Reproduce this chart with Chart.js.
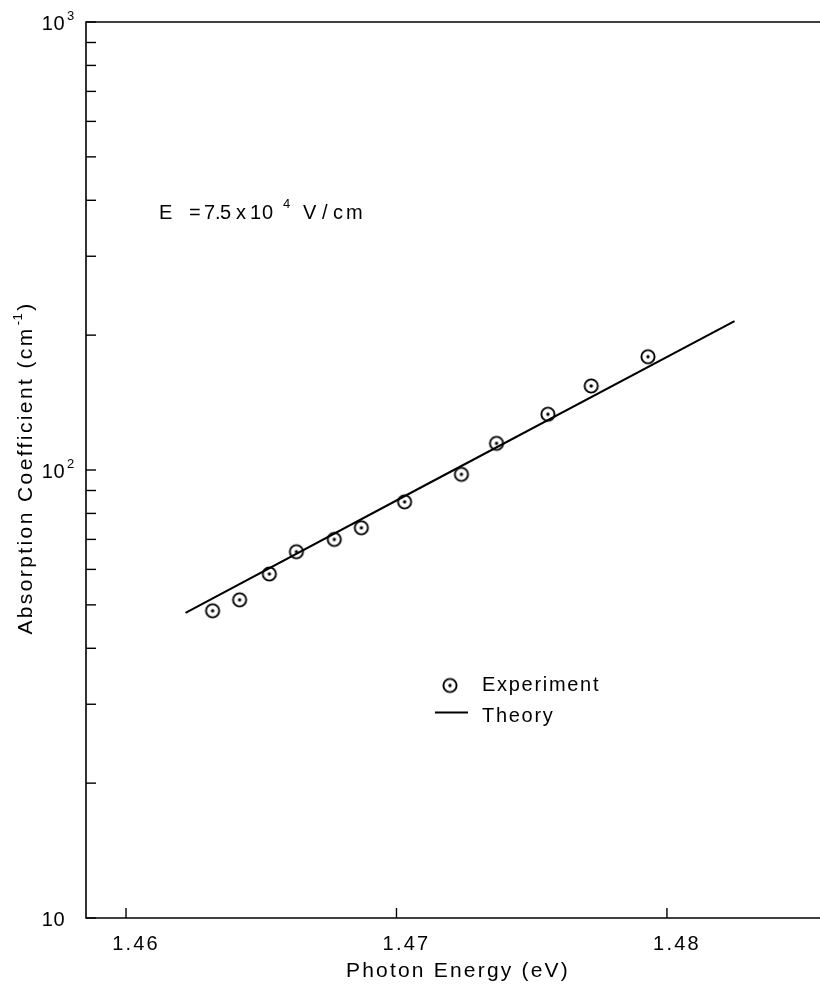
<!DOCTYPE html>
<html>
<head>
<meta charset="utf-8">
<script src="https://cdn.jsdelivr.net/npm/chart.js@4.4.1/dist/chart.umd.min.js"></script>
<style>
  html, body { margin: 0; padding: 0; background: #fff; overflow: hidden; }
  canvas { display: block; }
</style>
</head>
<body>
<canvas id="myChart" width="820" height="987"></canvas>
<script>
// datos
const energia = [1.4632, 1.4642, 1.4653, 1.4663, 1.4677, 1.4687, 1.4703, 1.4724, 1.4737, 1.4756, 1.4772, 1.4793];
const absorcion = [48.5, 51.3, 58.6, 65.7, 70.0, 74.3, 84.9, 97.8, 114.7, 133.2, 154.0, 179.0];
const teoriaX = [1.4622, 1.4709, 1.4825];
const teoriaY = [48.0, 91.4, 215.0];
const ticksX = [1.46, 1.47, 1.48];
const ticksY = [10, 20, 30, 40, 50, 60, 70, 80, 90, 100, 200, 300, 400, 500, 600, 700, 800, 900, 1000];
const etiquetasY = [[10, ''], [100, '2'], [1000, '3']];

const fuente = '"Liberation Sans", Arial, sans-serif';

// marcador: circulo con punto al centro
const marca = document.createElement('canvas');
marca.width = 18; marca.height = 18;
(function () {
    const c = marca.getContext('2d');
    c.strokeStyle = '#000';
    c.lineWidth = 1.9;
    c.beginPath(); c.arc(9, 9, 6.6, 0, Math.PI * 2); c.stroke();
    c.fillStyle = '#000';
    c.beginPath(); c.arc(9, 9, 1.7, 0, Math.PI * 2); c.fill();
})();

function texto(ctx, t, x, y, size, espacio, align) {
    ctx.font = size + 'px ' + fuente;
    ctx.letterSpacing = espacio + 'px';
    ctx.textAlign = align || 'left';
    ctx.fillText(t, x, y);
    return ctx.measureText(t).width;
}

const marcos = {
    id: 'marcos',
    afterDraw(chart) {
        const ctx = chart.ctx;
        const a = chart.chartArea;
        const sx = chart.scales.x, sy = chart.scales.y;
        ctx.save();
        ctx.strokeStyle = '#000';
        ctx.fillStyle = '#000';
        ctx.lineWidth = 1.6;
        // ejes
        ctx.beginPath();
        ctx.moveTo(a.right, a.top); ctx.lineTo(a.left, a.top);
        ctx.lineTo(a.left, a.bottom); ctx.lineTo(a.right, a.bottom);
        ctx.stroke();
        // marcas hacia dentro
        ctx.lineWidth = 1.4;
        ticksY.forEach(v => {
            const y = sy.getPixelForValue(v);
            ctx.beginPath(); ctx.moveTo(a.left, y); ctx.lineTo(a.left + 10, y); ctx.stroke();
        });
        ticksX.forEach(v => {
            const x = sx.getPixelForValue(v);
            ctx.beginPath(); ctx.moveTo(x, a.bottom); ctx.lineTo(x, a.bottom - 10); ctx.stroke();
        });
        ctx.textBaseline = 'alphabetic';
        // etiquetas eje y
        etiquetasY.forEach(([v, exp]) => {
            const y = sy.getPixelForValue(v);
            texto(ctx, '10', 65, y + 8, 20, 0.5, 'right');
            if (exp) texto(ctx, exp, 67, y - 2, 13, 0, 'left');
        });
        // etiquetas eje x
        ticksX.forEach(v => {
            const x = sx.getPixelForValue(v);
            texto(ctx, v.toFixed(2), x + 10, a.bottom + 32, 20, 2.2, 'center');
        });
        // titulo eje x
        texto(ctx, 'Photon Energy (eV)', 458, 977, 21, 2.2, 'center');
        // titulo eje y
        ctx.save();
        ctx.translate(32, 468);
        ctx.rotate(-Math.PI / 2);
        ctx.font = '21px ' + fuente;
        ctx.letterSpacing = '2.4px';
        const p1 = 'Absorption Coefficient (cm';
        const w1 = ctx.measureText(p1).width;
        ctx.font = '13px ' + fuente;
        ctx.letterSpacing = '0.5px';
        const w2 = ctx.measureText('-1').width;
        ctx.font = '21px ' + fuente;
        ctx.letterSpacing = '2.4px';
        const w3 = ctx.measureText(')').width;
        let x0 = -(w1 + w2 + w3 + 3) / 2;
        texto(ctx, p1, x0, 0, 21, 2.4);
        texto(ctx, '-1', x0 + w1 + 1, -10, 13, 0.5);
        texto(ctx, ')', x0 + w1 + w2 + 3, 0, 21, 2.4);
        ctx.restore();
        // anotacion del campo
        [['E', 159], ['=', 189], ['7', 204], ['.', 215], ['5', 220], ['x', 236], ['1', 250], ['0', 262],
         ['V', 303], ['/', 322], ['c', 333], ['m', 346]].forEach(([t, x]) => texto(ctx, t, x, 219, 20, 0));
        texto(ctx, '4', 283, 208, 13, 0);
        // leyenda
        ctx.drawImage(marca, 450 - 9, 685.5 - 9);
        texto(ctx, 'Experiment', 482, 691, 20, 1.7);
        ctx.lineWidth = 1.8;
        ctx.beginPath(); ctx.moveTo(435, 712.5); ctx.lineTo(468, 712.5); ctx.stroke();
        texto(ctx, 'Theory', 482, 722, 20, 1.7);
        ctx.restore();
    }
};

new Chart(document.getElementById('myChart').getContext('2d'), {
    type: 'scatter',
    data: {
        datasets: [{
            label: 'Theory',
            data: teoriaX.map((x, i) => ({ x: x, y: teoriaY[i] })),
            showLine: true,
            borderColor: '#000',
            borderWidth: 2,
            pointRadius: 0,
            fill: false
        }, {
            label: 'Experiment',
            data: energia.map((x, i) => ({ x: x, y: absorcion[i] })),
            pointStyle: marca,
            pointRadius: 7,
            showLine: false
        }]
    },
    options: {
        responsive: false,
        animation: false,
        devicePixelRatio: 1,
        layout: { autoPadding: false, padding: { left: 86, top: 22, right: 0, bottom: 69 } },
        plugins: { legend: { display: false }, tooltip: { enabled: false } },
        scales: {
            x: { type: 'linear', min: 1.45852, max: 1.48566, display: false },
            y: { type: 'logarithmic', min: 10, max: 1000, display: false }
        }
    },
    plugins: [marcos]
});
</script>
</body>
</html>
